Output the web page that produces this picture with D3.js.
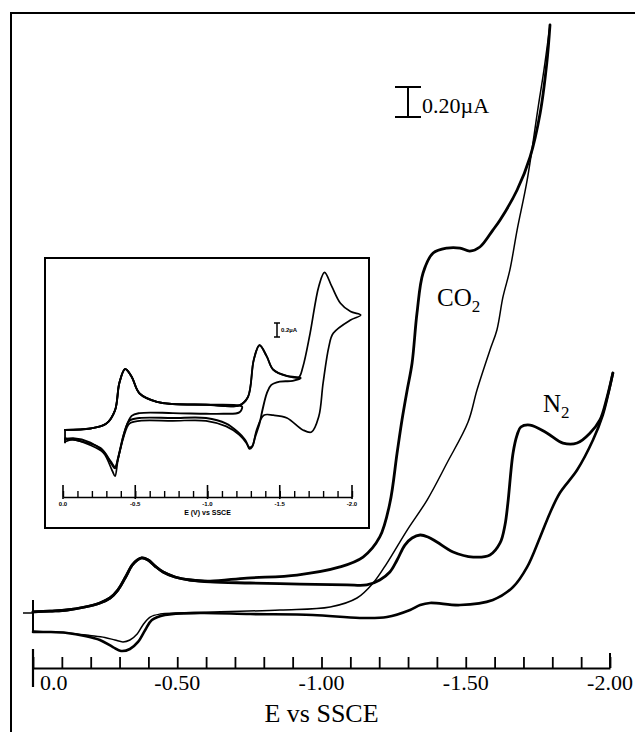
<!DOCTYPE html>
<html>
<head>
<meta charset="utf-8">
<script src="https://cdn.jsdelivr.net/npm/d3@7/dist/d3.min.js"></script>
<style>
body { margin: 0; background: #fff; }
svg { display: block; }
</style>
</head>
<body>
<div id="chart"></div>
<script>
var w = 635;
var h = 732;

// main axis ticks and labels (E vs SSCE, volts)
var tickValues = [0, -0.1, -0.2, -0.3, -0.4, -0.5, -0.6, -0.7, -0.8, -0.9, -1.0,
                  -1.1, -1.2, -1.3, -1.4, -1.5, -1.6, -1.7, -1.8, -1.9, -2.0];
var labelValues = [0, -0.5, -1.0, -1.5, -2.0];
var labelTexts = ["0.0", "-0.50", "-1.00", "-1.50", "-2.00"];

// shared first wave of the forward scan [E (V), i (uA)]
var fwdStart = [[0, 0.007], [-0.059, 0.013], [-0.118, 0.02], [-0.18, 0.04], [-0.232, 0.067],
    [-0.267, 0.10], [-0.294, 0.153], [-0.319, 0.233], [-0.344, 0.32], [-0.361, 0.353],
    [-0.377, 0.367], [-0.399, 0.353], [-0.423, 0.313], [-0.451, 0.273], [-0.492, 0.24],
    [-0.544, 0.22]];

// CO2 saturated solution
var co2Forward = [[-0.614, 0.213], [-0.741, 0.233], [-0.915, 0.253], [-1.064, 0.307],
    [-1.144, 0.373], [-1.202, 0.507], [-1.237, 0.733], [-1.262, 1.067], [-1.279, 1.287],
    [-1.297, 1.487], [-1.314, 1.667], [-1.331, 2.0], [-1.352, 2.267], [-1.387, 2.40],
    [-1.435, 2.433], [-1.48, 2.433], [-1.514, 2.413], [-1.549, 2.44], [-1.594, 2.553],
    [-1.619, 2.62], [-1.678, 2.82], [-1.723, 3.04], [-1.758, 3.333], [-1.781, 3.667],
    [-1.792, 3.92]];
var co2Return = [[-1.792, 3.92], [-1.771, 3.62], [-1.751, 3.373], [-1.713, 2.887],
    [-1.678, 2.553], [-1.653, 2.287], [-1.629, 2.107], [-1.608, 1.887], [-1.584, 1.753],
    [-1.539, 1.487], [-1.508, 1.273], [-1.435, 1.0], [-1.366, 0.753], [-1.297, 0.553],
    [-1.227, 0.333], [-1.179, 0.20], [-1.123, 0.10], [-1.03, 0.04], [-0.856, 0.02],
    [-0.509, 0], [-0.441, -0.007], [-0.406, -0.027], [-0.381, -0.08], [-0.361, -0.14],
    [-0.336, -0.18], [-0.312, -0.193], [-0.284, -0.18], [-0.249, -0.163], [-0.197, -0.15],
    [-0.118, -0.133], [-0.059, -0.127], [0, -0.12]];

// N2 saturated solution
var n2Forward = [[-0.614, 0.207], [-0.753, 0.20], [-0.925, 0.193], [-1.088, 0.187],
    [-1.157, 0.187], [-1.202, 0.22], [-1.237, 0.273], [-1.262, 0.353], [-1.289, 0.453],
    [-1.314, 0.50], [-1.342, 0.52], [-1.369, 0.507], [-1.40, 0.473], [-1.456, 0.407],
    [-1.526, 0.373], [-1.584, 0.387], [-1.619, 0.467], [-1.636, 0.587], [-1.646, 0.733],
    [-1.664, 1.067], [-1.678, 1.187], [-1.691, 1.24], [-1.723, 1.253], [-1.781, 1.20],
    [-1.837, 1.133], [-1.886, 1.133], [-1.931, 1.20], [-1.965, 1.287], [-1.99, 1.44],
    [-2.01, 1.60]];
var n2Return = [[-2.01, 1.60], [-1.993, 1.453], [-1.975, 1.32], [-1.941, 1.153],
    [-1.886, 0.953], [-1.826, 0.80], [-1.792, 0.667], [-1.758, 0.507], [-1.713, 0.307],
    [-1.664, 0.173], [-1.594, 0.087], [-1.48, 0.053], [-1.376, 0.067], [-1.342, 0.053],
    [-1.307, 0.02], [-1.227, -0.027], [-1.133, -0.033], [-0.97, -0.013], [-0.753, -0.007],
    [-0.579, 0], [-0.457, -0.013], [-0.412, -0.047], [-0.389, -0.113], [-0.364, -0.193],
    [-0.336, -0.24], [-0.305, -0.253], [-0.277, -0.227], [-0.232, -0.18], [-0.18, -0.153],
    [-0.118, -0.133], [-0.059, -0.127], [0, -0.127]];

var startMarker = [0.087, -0.133];   // initial current step at E = 0
var scaleBar = 0.20;                 // uA

// inset CV
var insetTicks = [0, -0.1, -0.2, -0.3, -0.4, -0.5, -0.6, -0.7, -0.8, -0.9, -1.0,
                  -1.1, -1.2, -1.3, -1.4, -1.5, -1.6, -1.7, -1.8, -1.9, -2.0];
var insetMajor = [0, -0.5, -1.0, -1.5, -2.0];
var insetLabels = ["0.0", "-0.5", "-1.0", "-1.5", "-2.0"];
var insetForward = [[-0.014, 0.03], [-0.19, 0.05], [-0.30, 0.12], [-0.36, 0.31], [-0.39, 0.70],
    [-0.43, 0.90], [-0.475, 0.79], [-0.53, 0.55], [-0.65, 0.43], [-0.76, 0.40], [-0.99, 0.39],
    [-1.22, 0.38], [-1.28, 0.50], [-1.32, 1.03], [-1.36, 1.24], [-1.41, 1.08], [-1.455, 0.89],
    [-1.55, 0.80], [-1.63, 0.78], [-1.66, 0.93], [-1.71, 1.41], [-1.77, 2.08], [-1.81, 2.28],
    [-1.86, 2.08], [-1.92, 1.84], [-1.99, 1.72], [-2.06, 1.67]];
var insetReturnA = [[-2.06, 1.67], [-1.99, 1.60], [-1.87, 1.41], [-1.84, 1.22], [-1.80, 0.70],
    [-1.77, 0.22], [-1.72, 0.0], [-1.66, 0.03], [-1.55, 0.20], [-1.455, 0.24], [-1.39, 0.24],
    [-1.34, 0.03], [-1.31, -0.21], [-1.29, -0.24], [-1.27, -0.16], [-1.22, -0.04], [-1.13, 0.08],
    [-0.99, 0.16], [-0.76, 0.16], [-0.53, 0.16], [-0.46, 0.12], [-0.42, -0.07], [-0.38, -0.40],
    [-0.36, -0.63], [-0.34, -0.55], [-0.28, -0.30], [-0.19, -0.19], [-0.07, -0.11], [-0.014, -0.14]];
var insetReturnB = [[-1.645, 0.77], [-1.59, 0.73], [-1.50, 0.72], [-1.44, 0.67], [-1.41, 0.55],
    [-1.38, 0.31], [-1.36, 0.12], [-1.33, -0.07], [-1.31, -0.20], [-1.29, -0.22], [-1.26, -0.11],
    [-1.21, 0.0], [-1.13, 0.12], [-0.99, 0.20], [-0.76, 0.20], [-0.53, 0.20], [-0.46, 0.16],
    [-0.42, -0.04], [-0.38, -0.38], [-0.36, -0.52], [-0.34, -0.47], [-0.28, -0.28],
    [-0.19, -0.15], [-0.07, -0.09], [-0.014, -0.11]];
var insetReturnC = [[-1.24, 0.36], [-1.22, 0.28], [-1.11, 0.26], [-0.99, 0.26], [-0.76, 0.27],
    [-0.53, 0.27], [-0.475, 0.23], [-0.43, 0.03], [-0.39, -0.30], [-0.36, -0.50], [-0.33, -0.42],
    [-0.26, -0.23], [-0.14, -0.14], [-0.014, -0.09]];
var insetStart = [0.04, -0.16];
var insetBar = 0.2;

var serif = "'Liberation Serif', 'Times New Roman', serif";

var svg = d3.select("#chart")
            .append("svg")
            .attr("width", w)
            .attr("height", h);

// frame (left and top edges only)
svg.append("path")
    .attr("d", "M11,732 L11,13 L635,13")
    .attr("fill", "none")
    .attr("stroke", "#000")
    .attr("stroke-width", 2);

// Create xScale and yScale
var xScale = d3.scaleLinear().domain([0, -2]).range([33, 610]);
var yScale = d3.scaleLinear().domain([0, 1]).range([613, 463]);

var line = d3.line()
    .x(function(d) { return xScale(d[0]); })
    .y(function(d) { return yScale(d[1]); })
    .curve(d3.curveCatmullRom.alpha(0.5));

function drawPath(g, data, lineGen, width) {
    g.append("path")
        .datum(data)
        .attr("d", lineGen)
        .attr("fill", "none")
        .attr("stroke", "#000")
        .attr("stroke-width", width)
        .attr("stroke-linejoin", "round")
        .attr("stroke-linecap", "round");
}

drawPath(svg, co2Return, line, 1.5);
drawPath(svg, n2Return, line, 2.6);
drawPath(svg, fwdStart.concat(n2Forward), line, 2.8);
drawPath(svg, fwdStart.concat(co2Forward), line, 2.8);

// start marker
svg.append("line")
    .attr("x1", xScale(0)).attr("x2", xScale(0))
    .attr("y1", yScale(startMarker[0])).attr("y2", yScale(startMarker[1]))
    .attr("stroke", "#000").attr("stroke-width", 2);
svg.append("line")
    .attr("x1", xScale(0) - 10).attr("x2", xScale(0))
    .attr("y1", yScale(0)).attr("y2", yScale(0))
    .attr("stroke", "#000").attr("stroke-width", 1.5);

// x axis, ticks pointing up
var axisY = 668;
var xAxis = d3.axisBottom(xScale)
    .tickValues(tickValues)
    .tickSizeInner(-11)
    .tickSizeOuter(0)
    .tickFormat("");
var gx = svg.append("g")
    .attr("transform", "translate(0," + axisY + ")")
    .call(xAxis);
gx.select(".domain").attr("stroke-width", 2);
gx.selectAll(".tick line").attr("stroke-width", 1.8);

// long tick at origin, taller tick at end
svg.append("line")
    .attr("x1", xScale(0)).attr("x2", xScale(0))
    .attr("y1", axisY - 19).attr("y2", axisY + 19)
    .attr("stroke", "#000").attr("stroke-width", 2.2);
svg.append("line")
    .attr("x1", xScale(-2)).attr("x2", xScale(-2))
    .attr("y1", axisY - 15).attr("y2", axisY)
    .attr("stroke", "#000").attr("stroke-width", 2);

svg.selectAll("text.tlabel")
    .data(labelValues)
    .enter()
    .append("text")
    .attr("class", "tlabel")
    .text(function(d, i) { return labelTexts[i]; })
    .attr("x", function(d, i) { return i === 0 ? xScale(d) + 7 : xScale(d); })
    .attr("y", axisY + 22)
    .attr("text-anchor", function(d, i) { return i === 0 ? "start" : "middle"; })
    .attr("font-family", serif)
    .attr("font-size", "22px");

svg.append("text")
    .text("E vs SSCE")
    .attr("x", xScale(-1.0))
    .attr("y", 722)
    .attr("text-anchor", "middle")
    .attr("font-family", serif)
    .attr("font-size", "26px");

// scale bar 0.20 uA
var barX = 408, barTop = 87;
var barH = yScale(0) - yScale(scaleBar);
svg.append("path")
    .attr("d", "M" + (barX - 13) + "," + barTop + "H" + (barX + 13) +
               "M" + barX + "," + barTop + "V" + (barTop + barH) +
               "M" + (barX - 13) + "," + (barTop + barH) + "H" + (barX + 13))
    .attr("fill", "none").attr("stroke", "#000").attr("stroke-width", 2);
svg.append("text")
    .text("0.20\u00b5A")
    .attr("x", barX + 14)
    .attr("y", barTop + barH - 4)
    .attr("font-family", serif)
    .attr("font-size", "22px");

// curve labels
var co2Label = svg.append("text")
    .attr("x", 437).attr("y", 306)
    .attr("font-family", serif)
    .attr("font-size", "25px");
co2Label.append("tspan").text("CO");
co2Label.append("tspan").text("2").attr("font-size", "17px").attr("dy", 6);

var n2Label = svg.append("text")
    .attr("x", 543).attr("y", 412)
    .attr("font-family", serif)
    .attr("font-size", "25px");
n2Label.append("tspan").text("N");
n2Label.append("tspan").text("2").attr("font-size", "17px").attr("dy", 6);

// inset
var inset = svg.append("g");
inset.append("rect")
    .attr("x", 45).attr("y", 258)
    .attr("width", 324).attr("height", 270)
    .attr("fill", "#fff")
    .attr("stroke", "#000")
    .attr("stroke-width", 2);

var ixScale = d3.scaleLinear().domain([0, -2]).range([63, 352]);
var iyScale = d3.scaleLinear().domain([0, 1]).range([432, 362]);
var iline = d3.line()
    .x(function(d) { return ixScale(d[0]); })
    .y(function(d) { return iyScale(d[1]); })
    .curve(d3.curveCatmullRom.alpha(0.5));

var fwdB = insetForward.filter(function(d) { return d[0] >= -1.63; });
var fwdC = insetForward.filter(function(d) { return d[0] >= -1.22; });
drawPath(inset, insetForward.concat(insetReturnA.slice(1)), iline, 1.7);
drawPath(inset, fwdB.concat(insetReturnB), iline, 1.9);
drawPath(inset, fwdC.concat(insetReturnC), iline, 1.9);
inset.append("line")
    .attr("x1", ixScale(-0.014)).attr("x2", ixScale(-0.014))
    .attr("y1", iyScale(insetStart[0])).attr("y2", iyScale(insetStart[1]))
    .attr("stroke", "#000").attr("stroke-width", 1.8);

// inset axis
var iAxisY = 497;
var ixAxis = d3.axisBottom(ixScale)
    .tickValues(insetTicks)
    .tickSizeInner(-6)
    .tickSizeOuter(0)
    .tickFormat("");
var igx = inset.append("g")
    .attr("transform", "translate(0," + iAxisY + ")")
    .call(ixAxis);
igx.select(".domain").attr("stroke-width", 1.6);
igx.selectAll(".tick line").attr("stroke-width", 1.4);
inset.selectAll("line.imajor")
    .data(insetMajor)
    .enter()
    .append("line")
    .attr("class", "imajor")
    .attr("x1", function(d) { return ixScale(d); })
    .attr("x2", function(d) { return ixScale(d); })
    .attr("y1", iAxisY - 12)
    .attr("y2", iAxisY + 2)
    .attr("stroke", "#000")
    .attr("stroke-width", 1.6);
inset.selectAll("text.ilabel")
    .data(insetMajor)
    .enter()
    .append("text")
    .attr("class", "ilabel")
    .text(function(d, i) { return insetLabels[i]; })
    .attr("x", function(d) { return ixScale(d); })
    .attr("y", iAxisY + 9)
    .attr("text-anchor", "middle")
    .attr("font-family", "'Liberation Sans', Arial, sans-serif")
    .attr("font-weight", "bold")
    .attr("font-size", "6px");
inset.append("text")
    .text("E (V) vs SSCE")
    .attr("x", ixScale(-1.0))
    .attr("y", iAxisY + 18)
    .attr("text-anchor", "middle")
    .attr("font-family", "'Liberation Sans', Arial, sans-serif")
    .attr("font-weight", "bold")
    .attr("font-size", "7px");

// inset scale bar
var ibX = 277, ibTop = 323;
var ibH = iyScale(0) - iyScale(insetBar);
inset.append("path")
    .attr("d", "M" + (ibX - 3) + "," + ibTop + "H" + (ibX + 3) +
               "M" + ibX + "," + ibTop + "V" + (ibTop + ibH) +
               "M" + (ibX - 3) + "," + (ibTop + ibH) + "H" + (ibX + 3))
    .attr("fill", "none").attr("stroke", "#000").attr("stroke-width", 1.5);
inset.append("text")
    .text("0.2\u00b5A")
    .attr("x", ibX + 4)
    .attr("y", ibTop + 9)
    .attr("font-family", "'Liberation Sans', Arial, sans-serif")
    .attr("font-weight", "bold")
    .attr("font-size", "6px");
</script>
</body>
</html>
